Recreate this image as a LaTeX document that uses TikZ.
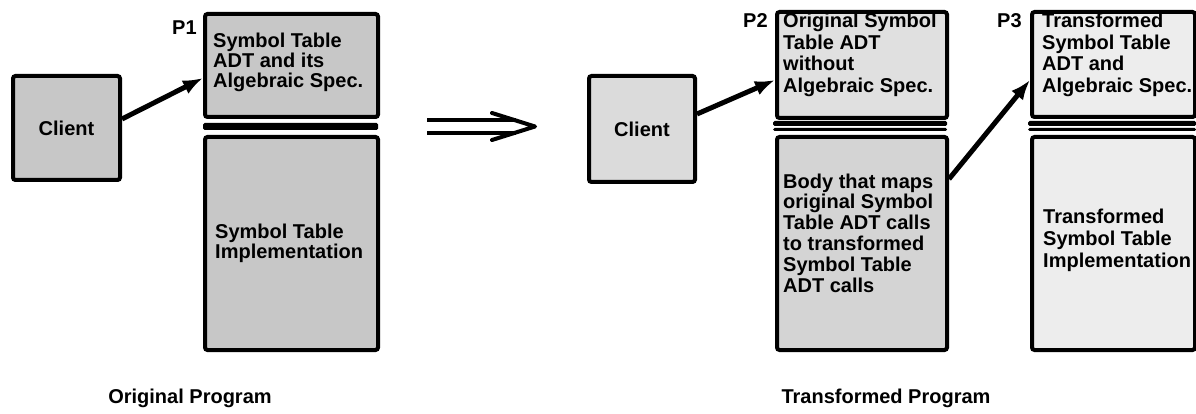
\documentclass[tikz,border=0pt]{standalone}
\usepackage{fontspec}
\setmainfont{Liberation Sans}
\usetikzlibrary{arrows.meta}
\definecolor{gA}{gray}{0.78}
\definecolor{gB}{gray}{0.86}
\definecolor{gC}{gray}{0.88}
\definecolor{gD}{gray}{0.83}
\definecolor{gE}{gray}{0.93}
\begin{document}
\begin{tikzpicture}[x=1pt,y=-1pt,
  box/.style={draw=black, line width=4pt, rounded corners=2.5pt, inner sep=0pt, anchor=north west},
  clientbox/.style={box, font=\bfseries\fontsize{20}{21}\selectfont},
  txt/.style={font=\bfseries\fontsize{20}{#1}\selectfont, align=left, anchor=base west, inner sep=0pt},
  txt/.default=21,
  lbl/.style={font=\bfseries\fontsize{20}{24}\selectfont, inner sep=0pt},
  conn/.style={line width=5pt, -{Latex[length=20pt,width=15pt]}},
  barfill/.style={fill=black, rounded corners=1.5pt}]
\useasboundingbox (0,0) rectangle (1196,414);

% ---------- Original program ----------
\node[clientbox, fill=gA, minimum width=107pt, minimum height=104pt] (c1) at (11,74) {Client};
\node[box, fill=gA, minimum width=173pt, minimum height=103pt] (p1top) at (203,12) {};
\fill[barfill] (203,123) rectangle (378,130);
\node[box, fill=gA, minimum width=173pt, minimum height=213pt] (p1bot) at (203,135) {};
% anchor base = baseline of the last line
\node[txt=20] (p1toptxt) at (213,88) {Symbol Table\\ADT and its\\Algebraic Spec.};
\node[txt=20] (p1bottxt) at (215,258) {Symbol Table\\Implementation};
\node[lbl, anchor=base west] (p1lbl) at (172,35) {P1};
\draw[conn] ([yshift=9pt]c1.east) -- ([yshift=-12.5pt]p1top.west);
\node[lbl, anchor=base] (origlbl) at (190,403) {Original Program};

% ---------- implies arrow ----------
\draw[line width=3.5pt] (427,120) -- (516,120);
\draw[line width=3.5pt] (427,133) -- (516,133);
\draw[line width=4pt, line cap=round, line join=round] (492,113) -- (535,126.5) -- (492,140);

% ---------- Transformed program ----------
\node[clientbox, fill=gB, minimum width=106pt, minimum height=106pt] (c2) at (587,74) {Client};
\node[box, fill=gC, minimum width=170pt, minimum height=106pt] (p2top) at (775,10) {};
\fill[barfill] (773,121) rectangle (947,126);
\fill[barfill] (773,128) rectangle (947,131);
\node[box, fill=gD, minimum width=170pt, minimum height=213pt] (p2bot) at (775,135) {};
\node[txt=21.5] (p2toptxt) at (783,92.5) {Original Symbol\\Table ADT\\without\\Algebraic Spec.};
\node[txt=20.8] (p2bottxt) at (783,292) {Body that maps\\original Symbol\\Table ADT calls\\to transformed\\Symbol Table\\ADT calls};
\node[lbl, anchor=base west] (p2lbl) at (743,28) {P2};

\node[box, fill=gE, minimum width=163pt, minimum height=105pt] (p3top) at (1030,10) {};
\fill[barfill] (1028,121) rectangle (1196,126);
\fill[barfill] (1028,128) rectangle (1196,131);
\node[box, fill=gE, minimum width=163pt, minimum height=213pt] (p3bot) at (1030,135) {};
\node[txt=21.5] (p3toptxt) at (1042,92.5) {Transformed\\Symbol Table\\ADT and\\Algebraic Spec.};
\node[txt=22] (p3bottxt) at (1043,267) {Transformed\\Symbol Table\\Implementation};
\node[lbl, anchor=base west] (p3lbl) at (997,28) {P3};

\draw[conn] ([yshift=15pt]c2.east) -- ([yshift=-15pt]p2top.west);
\draw[conn] ([yshift=64.5pt]p2bot.east) -- ([yshift=-15.5pt]p3top.west);
\node[lbl, anchor=base] (translbl) at (886,403) {Transformed Program};
\end{tikzpicture}
\end{document}
